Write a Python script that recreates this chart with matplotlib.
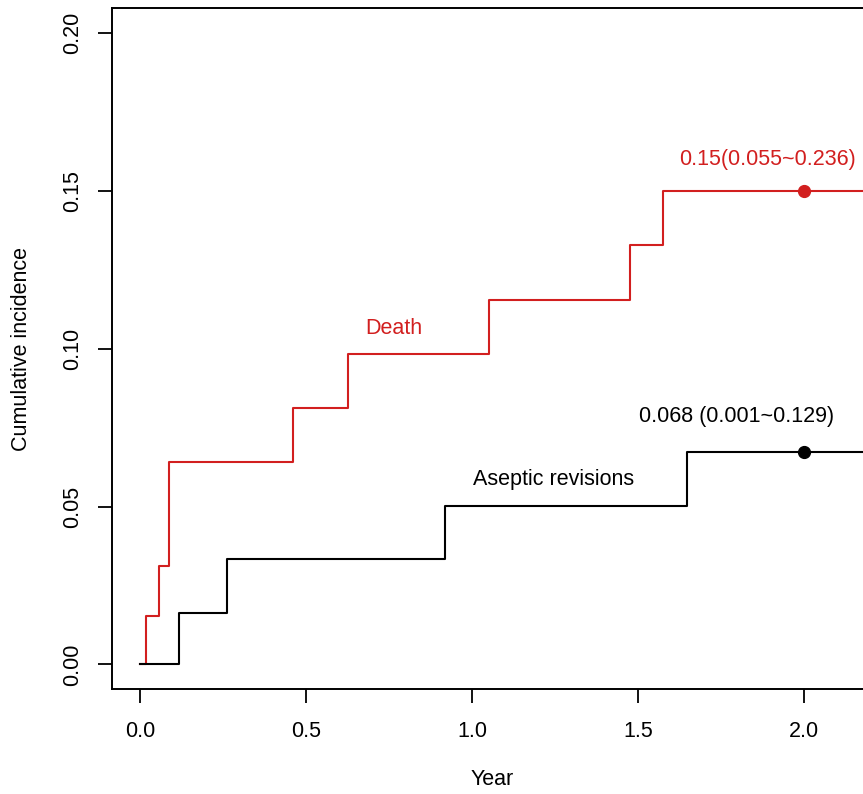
import matplotlib
matplotlib.use("Agg")
import matplotlib.pyplot as plt

plt.rcParams['font.family'] = ['Liberation Sans', 'DejaVu Sans']

# step times (years) and cumulative incidence after each step
death_time = [0.0, 0.018, 0.057, 0.086, 0.461, 0.625, 1.051, 1.475, 1.575]
death_ci = [0.0, 0.0155, 0.0313, 0.0641, 0.0812, 0.0983, 0.1154, 0.1328, 0.1501]

aseptic_time = [0.0, 0.116, 0.263, 0.918, 1.647]
aseptic_ci = [0.0, 0.0164, 0.0333, 0.0502, 0.0674]

point_year = 2.0
death_at_2 = 0.1501
aseptic_at_2 = 0.0674
death_text = "0.15(0.055~0.236)"
aseptic_text = "0.068 (0.001~0.129)"

x_ticks = [0.0, 0.5, 1.0, 1.5, 2.0]
x_ticklabels = ["0.0", "0.5", "1.0", "1.5", "2.0"]
y_ticks = [0.00, 0.05, 0.10, 0.15, 0.20]
y_ticklabels = ["0.00", "0.05", "0.10", "0.15", "0.20"]

red = '#d21f1f'
x_end = 2.3
fs = 15.5

fig = plt.figure(figsize=(8.63, 7.94), dpi=100)
ax = fig.add_axes([0.1301, 0.1319, 0.9175, 0.8576])

ax.step(death_time + [x_end], death_ci + [death_ci[-1]], where='post', color=red, lw=1.5)
ax.step(aseptic_time + [x_end], aseptic_ci + [aseptic_ci[-1]], where='post', color='black', lw=1.5)

ax.plot([point_year], [death_at_2], 'o', color=red, ms=8.5)
ax.plot([point_year], [aseptic_at_2], 'o', color='black', ms=8.5)

ax.text(0.765, 0.1066, "Death", color=red, fontsize=fs, ha='center', va='center')
ax.text(1.246, 0.0585, "Aseptic revisions", color='black', fontsize=fs, ha='center', va='center')
ax.text(1.797, 0.0787, aseptic_text, color='black', fontsize=fs, ha='center', va='center')
ax.text(1.889, 0.1599, death_text, color=red, fontsize=fs, ha='center', va='center')

ax.set_xlim(-0.0834, x_end)
ax.set_ylim(-0.00786, 0.2079)

ax.set_xticks(x_ticks)
ax.set_xticklabels(x_ticklabels)
ax.set_yticks(y_ticks)
ax.set_yticklabels(y_ticklabels, rotation=90, va='center')
ax.tick_params(axis='both', labelsize=fs, length=10, width=1.3)
ax.tick_params(axis='x', pad=13)
ax.tick_params(axis='y', pad=11)

for s in ['left', 'bottom', 'top', 'right']:
    ax.spines[s].set_linewidth(1.4)

ax.set_xlabel("Year", fontsize=fs)
ax.xaxis.set_label_coords((492 - 112.3) / (0.9175 * 863), -(780 - 689.3) / (0.8576 * 794))
ax.xaxis.label.set_va('center')
ax.set_ylabel("Cumulative incidence", fontsize=fs)
ax.yaxis.set_label_coords(-(112.3 - 22) / (0.9175 * 863), 0.5)
ax.yaxis.label.set_va('center')

fig.savefig("out.png", dpi=100)
